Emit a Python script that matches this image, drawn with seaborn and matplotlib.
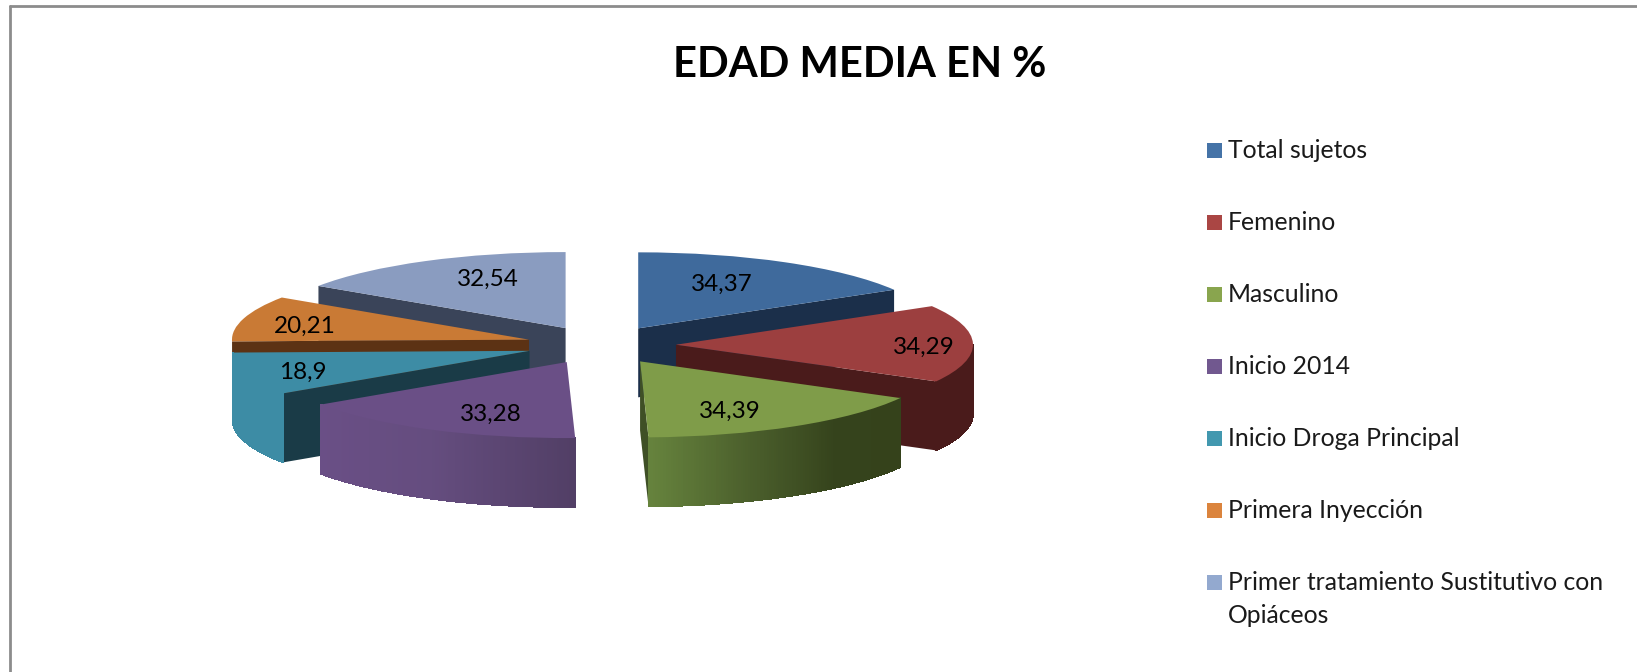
import numpy as np
import matplotlib
matplotlib.use('Agg')
import matplotlib.pyplot as plt
import seaborn as sns
from matplotlib.patches import Rectangle
from matplotlib.lines import Line2D

# Datos de la grafica
categorias = ['Total sujetos', 'Femenino', 'Masculino', 'Inicio 2014',
              'Inicio Droga Principal', 'Primera Inyección',
              'Primer tratamiento Sustitutivo con\nOpiáceos']
valores = [34.37, 34.29, 34.39, 33.28, 18.9, 20.21, 32.54]
etiquetas = ['34,37', '34,29', '34,39', '33,28', '18,9', '20,21', '32,54']
titulo = 'EDAD MEDIA EN %'

# Colores: cara superior, pared recta y degradado de la pared curva
caras = ['#3f6a9c', '#9c3f3f', '#7f9c49', '#6a4f86', '#3d8ca5', '#c97a35', '#8a9cc0']
muestras = ['#4573a7', '#aa4644', '#89a54e', '#71588f', '#4298af', '#db843d', '#93a9cf']
rectas = ['#1b2f4a', '#4a1b1b', '#3f5026', '#2f2340', '#1a3b47', '#5c3214', '#3a4459']
curvas = [['#1b2f4a', '#1b2f4a'],
          ['#4a1b1b', '#4a1b1b'],
          ['#66833d', '#4b5f2c', '#35431c', '#35421b'],
          ['#6a4f86', '#654d7f', '#523f66'],
          ['#3d8ca5', '#3d8ca5'],
          ['#5c3214', '#5c3214'],
          ['#3a4459', '#3a4459']]

# Geometria en pixeles de la figura
ANCHO, ALTO = 1637, 672
CENTRO_X, CENTRO_Y = 601, 345
RADIO_X, RADIO_Y = 297, 76
ALTURA = 69 / RADIO_Y
SEPARACION = 0.2525

# Posicion de cada etiqueta respecto al vertice de su porcion
pos_etiquetas = [(0.283, 0.58), (0.835, -0.03), (0.303, -0.66), (-0.255, -0.69),
                 (-0.765, -0.28), (-0.755, 0.18), (-0.263, 0.64)]


def dibujar_paredes(ax, w, recta, curva, zorder):
    cx, cy = w.center
    # paredes rectas, solo las que miran hacia delante
    for ang, normal in ((w.theta1, w.theta1 - 90), (w.theta2, w.theta2 + 90)):
        if np.sin(np.radians(normal)) >= -1e-6:
            continue
        x = cx + w.r * np.cos(np.radians(ang))
        y = cy + w.r * np.sin(np.radians(ang))
        ax.fill([cx, x, x, cx], [cy, y, y - ALTURA, cy - ALTURA],
                color=recta, lw=0, zorder=zorder)

    # pared curva, solo la mitad que mira hacia delante
    th = np.radians(np.linspace(w.theta1, w.theta2, 121))
    th = th[np.sin(th) <= 0]
    if len(th) < 2 or np.degrees(th[-1] - th[0]) < 2:
        return
    xs = cx + w.r * np.cos(th)
    ys = cy + w.r * np.sin(th)
    orden = np.argsort(xs)
    xs, ys = xs[orden], ys[orden]
    tonos = sns.blend_palette(curva, len(xs) - 1)
    for i, tono in enumerate(tonos):
        ax.fill([xs[i], xs[i + 1], xs[i + 1], xs[i]],
                [ys[i], ys[i + 1], ys[i + 1] - ALTURA, ys[i] - ALTURA],
                color=tono, lw=0.6, antialiased=False, zorder=zorder + 1)


def dibujar_leyenda(fig):
    filas = [150.5, 222.5, 294.5, 366.5, 438.5, 510.5, 582.5]
    for nombre, color, fila in zip(categorias, muestras, filas):
        fig.add_artist(Rectangle((1207 / ANCHO, 1 - (fila + 7.5) / ALTO),
                                 15 / ANCHO, 15 / ALTO, color=color,
                                 transform=fig.transFigure, lw=0))
        fig.text(1228 / ANCHO, 1 - (fila - 12) / ALTO, nombre, fontsize=17.8,
                 color='#1a1a1a', va='top', ha='left', linespacing=1.55)


def main():
    sns.set_theme(style='white')
    plt.rcParams['font.family'] = ['Lato', 'DejaVu Sans']

    fig = plt.figure(figsize=(ANCHO / 100, ALTO / 100), dpi=100)
    ax = fig.add_axes([0, 0, 1, 1])

    wedges, _ = ax.pie(valores, startangle=90, counterclock=False,
                       explode=[SEPARACION] * len(valores),
                       colors=sns.color_palette(caras), radius=1,
                       wedgeprops={'linewidth': 0})
    ax.set_aspect('auto')
    ax.set_xlim(-CENTRO_X / RADIO_X, (ANCHO - CENTRO_X) / RADIO_X)
    ax.set_ylim((CENTRO_Y - ALTO) / RADIO_Y, CENTRO_Y / RADIO_Y)

    # De atras hacia delante
    orden = sorted(range(len(wedges)), key=lambda i: -wedges[i].center[1])
    for n, i in enumerate(orden):
        z = 10 + n * 3
        dibujar_paredes(ax, wedges[i], rectas[i], curvas[i], z)
        wedges[i].set_zorder(z + 2)

    for w, texto, (dx, dy) in zip(wedges, etiquetas, pos_etiquetas):
        ax.text(w.center[0] + dx, w.center[1] + dy, texto, fontsize=17.5,
                color='black', ha='center', va='center', zorder=50)

    fig.text(860 / ANCHO, 1 - 65 / ALTO, titulo, fontsize=30, fontweight='bold',
             color='black', ha='center', va='center')

    # Marco gris de la grafica
    fig.add_artist(Line2D([10 / ANCHO, 10 / ANCHO], [0, 1 - 6 / ALTO], color='#8c8c8c',
                          lw=2, transform=fig.transFigure))
    fig.add_artist(Line2D([10 / ANCHO, 1], [1 - 6 / ALTO, 1 - 6 / ALTO], color='#8c8c8c',
                          lw=2, transform=fig.transFigure))

    dibujar_leyenda(fig)
    fig.savefig('out.png', dpi=100)


if __name__ == "__main__":
    main()
